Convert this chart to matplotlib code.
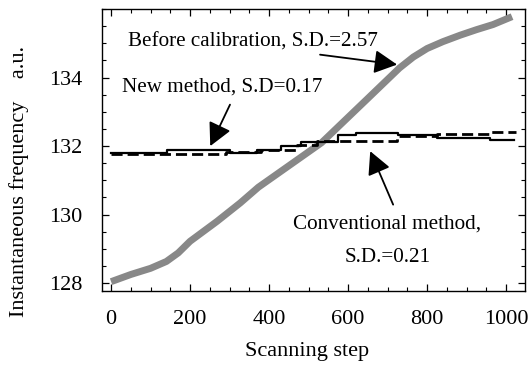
import matplotlib
matplotlib.use('Agg')
import matplotlib.pyplot as plt
from matplotlib.ticker import MultipleLocator

# before calibration (grey thick curve)
before_x = [0, 50, 100, 140, 170, 200, 268, 327, 373, 533, 647, 730, 765, 800,
            840, 884, 925, 967, 1015]
before_y = [128.04, 128.25, 128.43, 128.63, 128.88, 129.22, 129.80, 130.34, 130.80,
            132.10, 133.36, 134.28, 134.60, 134.85, 135.05, 135.24, 135.40, 135.55,
            135.78]

# new method (solid step line)
new_x = [0, 141, 300, 370, 430, 480, 575, 620, 727, 825, 960, 1020]
new_y = [131.80, 131.90, 131.81, 131.88, 132.00, 132.12, 132.33, 132.38,
         132.32, 132.25, 132.18, 132.18]

# conventional method (dashed step line)
conv_x = [0, 290, 380, 470, 520, 724, 825, 960, 1025]
conv_y = [131.77, 131.82, 131.90, 132.02, 132.16, 132.30, 132.36, 132.42, 132.42]

plt.rcParams['font.family'] = ['Liberation Serif', 'DejaVu Serif']

fig = plt.figure(figsize=(5.32, 3.65), dpi=100)
ax = fig.add_axes([0.191, 0.203, 0.796, 0.772])

ax.plot(before_x, before_y, color='#888888', lw=5, solid_capstyle='butt', zorder=2)
ax.plot(new_x, new_y, color='black', lw=1.6, drawstyle='steps-post', zorder=3)
ax.plot(conv_x, conv_y, color='black', lw=2.0, ls=(0, (4, 1.8)),
        drawstyle='steps-post', zorder=3)

ax.set_xlim(-24, 1048)
ax.set_ylim(127.77, 136.0)
ax.set_yticks([128, 130, 132, 134])
ax.xaxis.set_major_locator(MultipleLocator(200))
ax.xaxis.set_minor_locator(MultipleLocator(50))
ax.yaxis.set_minor_locator(MultipleLocator(0.5))
ax.tick_params(which='both', direction='in', top=True, right=True, labelsize=16)
ax.tick_params(which='major', length=5, width=0.9)
ax.tick_params(which='minor', length=3, width=0.8)
ax.tick_params(axis='x', pad=14)
ax.tick_params(axis='y', pad=14)
for s in ax.spines.values():
    s.set_linewidth(1.0)

ax.set_xlabel('Scanning step', fontsize=16)
ax.set_ylabel('Instantaneous frequency    a.u.', fontsize=16)
ax.xaxis.set_label_coords(0.486, -0.181)
ax.yaxis.set_label_coords(-0.172, 0.39)

arrow = dict(arrowstyle='-|>,head_length=0.7,head_width=0.36', color='black',
             lw=1.3, mutation_scale=20, shrinkA=0, shrinkB=0)

ax.text(43, 135.05, 'Before calibration, S.D.=2.57', fontsize=15.2, va='center', ha='left')
ax.annotate('', xy=(724, 134.38), xytext=(529, 134.67), arrowprops=arrow)

ax.text(28, 133.71, 'New method, S.D=0.17', fontsize=15.2, va='center', ha='left')
ax.annotate('', xy=(251, 132.0), xytext=(301, 133.21), arrowprops=arrow)

ax.text(699, 129.71, 'Conventional method,', fontsize=15.2, va='center', ha='center')
ax.text(699, 128.74, 'S.D.=0.21', fontsize=15.2, va='center', ha='center')
ax.annotate('', xy=(656, 131.85), xytext=(714, 130.29), arrowprops=arrow)

fig.savefig('out.png', dpi=100)
